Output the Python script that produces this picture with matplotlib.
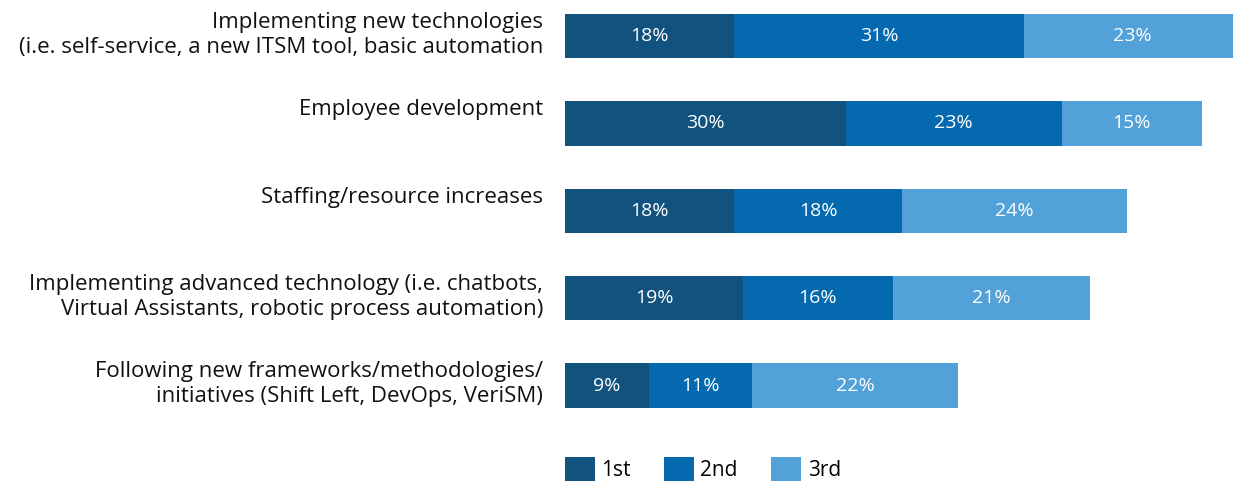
import matplotlib.pyplot as plt
from matplotlib.patches import Patch

plt.rcParams['font.family'] = ['Open Sans', 'DejaVu Sans']

categories = [
    "Implementing new technologies\n(i.e. self-service, a new ITSM tool, basic automation",
    "Employee development",
    "Staffing/resource increases",
    "Implementing advanced technology (i.e. chatbots,\nVirtual Assistants, robotic process automation)",
    "Following new frameworks/methodologies/\ninitiatives (Shift Left, DevOps, VeriSM)",
]
first = [18, 30, 18, 19, 9]
second = [31, 23, 18, 16, 11]
third = [23, 15, 24, 21, 22]
series_names = ["1st", "2nd", "3rd"]
colors = ["#12527E", "#0469AF", "#52A1D8"]

fig = plt.figure(figsize=(12.33, 4.84), dpi=100)
ax = fig.add_axes([565 / 1233, 1 - 430 / 484, 668 / 1233, 430 / 484])

ypos = list(range(len(categories)))
bar_h = 0.51
left = [0] * len(categories)
for vals, col in zip([first, second, third], colors):
    bars = ax.barh(ypos, vals, left=left, height=bar_h, color=col, linewidth=0)
    for b, v in zip(bars, vals):
        ax.text(b.get_x() + b.get_width() / 2, b.get_y() + b.get_height() / 2,
                f"{v}%", ha="center", va="center", color="white", fontsize=14)
    left = [l + v for l, v in zip(left, vals)]

for y, label in zip(ypos, categories):
    ax.annotate(label, xy=(0, y - bar_h / 2), xytext=(-22, 2),
                textcoords="offset pixels", ha="right", va="top",
                fontsize=16, color="#111111", linespacing=1.25,
                annotation_clip=False)

ax.set_xlim(0, 71.3)
ax.set_ylim(4.508, -0.412)
ax.axis("off")

handles = [Patch(facecolor=c, edgecolor="none") for c in colors]
fig.legend(handles, series_names, loc="lower left",
           bbox_to_anchor=(565 / 1233 - 0.007, -0.012), ncol=3, frameon=False,
           fontsize=15, handlelength=1.45, handleheight=1.45,
           handletextpad=0.3, columnspacing=1.6, borderaxespad=0)

fig.savefig("out.png", dpi=100)
